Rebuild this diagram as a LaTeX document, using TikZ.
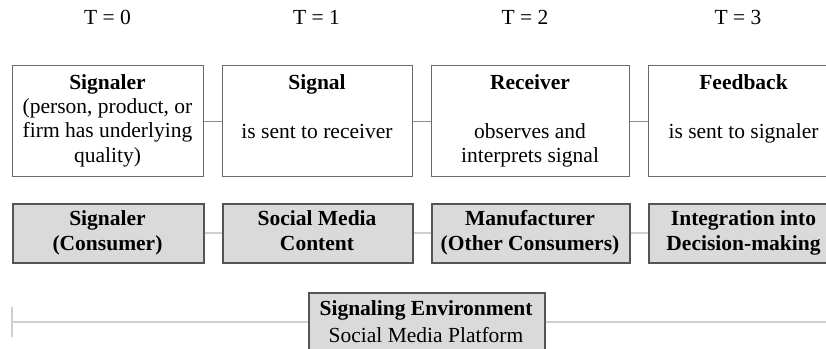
\documentclass[tikz,border=0pt]{standalone}
\usepackage{fontspec}
\setmainfont{Liberation Serif}
\definecolor{boxline}{HTML}{6A6A6A}
\definecolor{gboxline}{HTML}{555555}
\definecolor{gfill}{HTML}{DADADA}
\definecolor{conn}{HTML}{8C8C8C}
\definecolor{lconn}{HTML}{CFCFCF}
\begin{document}
\begin{tikzpicture}[x=1pt,y=-1pt,
  wbox/.style={draw=boxline, line width=1.2pt, fill=white, inner sep=0pt, anchor=north west, minimum height=111pt},
  gbox/.style={draw=gboxline, line width=1.5pt, fill=gfill, inner sep=0pt, anchor=north west, minimum height=59pt},
  txt/.style={inner sep=0pt, anchor=base, font=\fontsize{21.5}{24}\selectfont},
  btxt/.style={txt, font=\fontsize{21.5}{24}\selectfont\bfseries},
  wconn/.style={draw=conn, line width=1pt},
  gconn/.style={draw=lconn, line width=1.6pt},
]
\useasboundingbox (0,0) rectangle (826,348);
\clip (0,0) rectangle (826,348);
% time labels
\node[txt] (t0) at (107.5,24.5) {T = 0};
\node[txt] (t1) at (316.5,24.5) {T = 1};
\node[txt] (t2) at (525,24.5) {T = 2};
\node[txt] (t3) at (738,24.5) {T = 3};
% top boxes
\node[wbox, minimum width=191pt] (b1) at (12,65) {};
\node[wbox, minimum width=190pt] (b2) at (222,65) {};
\node[wbox, minimum width=198pt] (b3) at (431,65) {};
\node[wbox, minimum width=191pt] (b4) at (648,65) {};
\draw[wconn] (b1.east) -- (b2.west);
\draw[wconn] (b2.east) -- (b3.west);
\draw[wconn] (b3.east) -- (b4.west);
% texts in top boxes
\node[btxt] (b1h) at (107.5,89) {Signaler};
\node[txt] (b1a) at (107.5,113) {(person, product, or};
\node[txt] (b1b) at (107.5,137.5) {firm has underlying};
\node[txt] (b1c) at (107.5,162) {quality)};
\node[btxt] (b2h) at (317,89) {Signal};
\node[txt] (b2a) at (317,138) {is sent to receiver};
\node[btxt] (b3h) at (530,89) {Receiver};
\node[txt] (b3a) at (530,138) {observes and};
\node[txt] (b3b) at (530,162) {interprets signal};
\node[btxt] (b4h) at (743.5,89) {Feedback};
\node[txt] (b4a) at (743.5,138) {is sent to signaler};
% grey boxes
\node[gbox, minimum width=191pt] (g1) at (12,203) {};
\node[gbox, minimum width=190pt] (g2) at (222,203) {};
\node[gbox, minimum width=198pt] (g3) at (431,203) {};
\node[gbox, minimum width=191pt] (g4) at (648,203) {};
\draw[gconn] (g1.east) -- (g2.west);
\draw[gconn] (g2.east) -- (g3.west);
\draw[gconn] (g3.east) -- (g4.west);
\node[btxt] (g1a) at (107.5,225) {Signaler};
\node[btxt] (g1b) at (107.5,250) {(Consumer)};
\node[btxt] (g2a) at (317,225) {Social Media};
\node[btxt] (g2b) at (317,250) {Content};
\node[btxt] (g3a) at (530,225) {Manufacturer};
\node[btxt] (g3b) at (530,250) {(Other Consumers)};
\node[btxt] (g4a) at (743.5,225) {Integration into};
\node[btxt] (g4b) at (743.5,250) {Decision-making};
% environment
\coordinate (lend) at (12,322);
\coordinate (rend) at (840,322);
\coordinate (ttop) at (12,307);
\coordinate (tbot) at (12,337);
\node[gbox, minimum width=236pt, minimum height=80pt] (env) at (308,292) {};
\draw[gconn] (lend) -- (env.west |- lend);
\draw[gconn] (env.east |- rend) -- (rend);
\draw[gconn] (ttop) -- (tbot);
\node[btxt] (e1) at (426,315) {Signaling Environment};
\node[txt] (e2) at (426,342) {Social Media Platform};
\end{tikzpicture}
\end{document}
